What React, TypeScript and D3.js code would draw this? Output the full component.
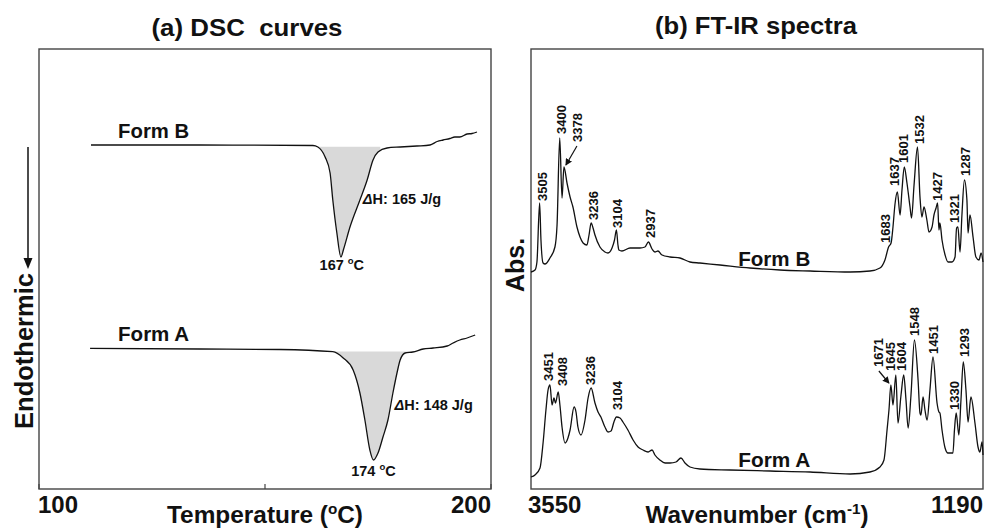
import React from "react";
import * as d3 from "d3";

const FONT = "'Liberation Sans', Arial, Helvetica, sans-serif";

// ---- DSC (a): temperature in °C, heat flow in arbitrary units ----
const dscBTemp = [111.5, 135.6, 160.6, 161.7, 163.3, 164.4, 165.0, 165.9, 166.8, 167.4, 168.8, 171.0, 172.6, 173.9, 175.0, 177.0, 179.9, 183.6, 186.5, 188.1, 189.4, 190.9, 192.0, 193.1, 194.7, 195.8, 196.9];
const dscBFlow = [34.4, 34.4, 34.35, 34.2, 33.2, 31.6, 28.9, 25.6, 23.2, 24.0, 26.2, 28.9, 30.9, 32.9, 33.7, 34.1, 34.2, 34.3, 34.4, 34.75, 34.9, 35.05, 35.2, 35.2, 35.5, 35.55, 35.7];
const dscATemp = [111.3, 135.6, 153.3, 165.0, 167.3, 169.5, 171.0, 172.1, 173.2, 174.0, 175.0, 176.1, 177.2, 178.3, 179.2, 179.9, 181.0, 182.7, 185.0, 187.2, 190.3, 191.6, 193.1, 194.7, 196.5];
const dscAFlow = [14.07, 14.0, 13.95, 13.73, 13.1, 11.9, 9.6, 6.9, 3.9, 2.9, 3.6, 5.2, 6.9, 9.6, 11.6, 12.9, 13.6, 13.7, 14.0, 14.1, 14.3, 14.6, 14.9, 15.1, 15.4];
const dscPeakTemp = [167, 174];
const dscEnthalpy = [165, 148];
const dscFillRange = [[161.5, 175.5], [164.5, 182.5]];

// ---- FT-IR (b): wavenumber in cm-1, absorbance in arbitrary units ----
const irBWave = [3550, 3529, 3519, 3505, 3498, 3487, 3477, 3451, 3425, 3414, 3400, 3388, 3378, 3362, 3346, 3331, 3310, 3294, 3278, 3258, 3247, 3236, 3226, 3216, 3190, 3164, 3148, 3127, 3114, 3104, 3096, 3091, 3075, 3033, 2981, 2955, 2937, 2918, 2903, 2887, 2866, 2824, 2772, 2720, 2668, 2563, 2407, 2250, 2093, 1884, 1780, 1728, 1702, 1683, 1670, 1660, 1650, 1637, 1623, 1613, 1601, 1587, 1571, 1563, 1550, 1532, 1519, 1509, 1498, 1483, 1472, 1456, 1446, 1435, 1427, 1420, 1415, 1404, 1388, 1373, 1352, 1336, 1328, 1321, 1310, 1300, 1287, 1274, 1268, 1258, 1242, 1227, 1211, 1200, 1190];
const irBAbs = [21.7, 21.9, 22.7, 28.6, 24.9, 22.6, 22.5, 23.1, 24.2, 26.4, 35.1, 29.1, 32.2, 30.6, 29.2, 28.2, 26.2, 25.2, 24.6, 24.4, 25.4, 26.6, 26.1, 25.4, 24.2, 23.7, 23.6, 24.1, 24.9, 25.9, 24.4, 23.9, 23.8, 24.1, 24.1, 24.2, 24.7, 24.0, 23.7, 23.8, 23.4, 23.2, 23.1, 22.7, 22.6, 22.4, 22.1, 21.9, 21.8, 21.7, 21.8, 22.1, 22.9, 24.2, 24.6, 26.2, 28.4, 29.7, 27.4, 29.9, 32.2, 30.6, 28.2, 27.1, 30.4, 34.2, 29.2, 27.2, 28.2, 26.9, 25.7, 26.2, 27.4, 28.1, 28.6, 25.9, 26.6, 24.9, 23.4, 22.7, 22.7, 23.2, 26.1, 26.2, 23.7, 27.4, 30.9, 28.9, 25.6, 27.4, 25.2, 23.2, 22.9, 23.6, 22.7];
const irAWave = [3550, 3529, 3503, 3487, 3472, 3461, 3451, 3440, 3430, 3422, 3408, 3399, 3388, 3372, 3357, 3346, 3325, 3315, 3305, 3289, 3268, 3252, 3236, 3216, 3200, 3185, 3164, 3148, 3132, 3117, 3104, 3085, 3070, 3044, 3017, 2991, 2965, 2939, 2929, 2918, 2903, 2877, 2850, 2824, 2793, 2767, 2746, 2720, 2668, 2511, 2302, 2093, 1884, 1780, 1728, 1707, 1691, 1681, 1671, 1660, 1645, 1634, 1618, 1604, 1592, 1581, 1566, 1548, 1529, 1519, 1514, 1503, 1493, 1482, 1467, 1451, 1430, 1420, 1415, 1404, 1388, 1373, 1347, 1339, 1330, 1316, 1305, 1293, 1279, 1268, 1253, 1232, 1216, 1206, 1195, 1190];
const irAAbs = [1.2, 1.4, 2.1, 4.6, 7.9, 9.9, 10.4, 8.4, 9.1, 8.6, 9.7, 8.4, 6.2, 4.6, 5.1, 5.9, 8.2, 7.7, 6.2, 5.4, 6.9, 9.1, 10.1, 8.6, 7.7, 7.2, 6.2, 5.7, 5.8, 6.7, 7.2, 7.1, 6.7, 5.9, 4.9, 4.2, 3.9, 3.7, 3.8, 3.9, 3.4, 2.9, 2.6, 2.6, 2.7, 3.1, 2.6, 2.2, 2.0, 1.9, 1.8, 1.7, 1.5, 1.7, 2.2, 2.9, 5.9, 7.9, 10.4, 8.4, 11.4, 6.6, 9.4, 11.4, 8.9, 6.1, 9.4, 14.9, 10.9, 7.6, 7.4, 9.2, 7.9, 6.9, 9.9, 13.2, 8.6, 7.7, 7.6, 5.9, 4.1, 3.6, 3.6, 5.9, 7.6, 5.4, 8.9, 12.7, 9.9, 6.7, 9.2, 6.6, 4.2, 3.7, 4.7, 3.4];

const irBPeaks = [3505, 3400, 3378, 3236, 3104, 2937, 1683, 1637, 1601, 1532, 1427, 1321, 1287];
const irAPeaks = [3451, 3408, 3236, 3104, 1671, 1645, 1604, 1548, 1451, 1330, 1293];
// small horizontal nudges so neighbouring labels do not collide
const irBNudge = [2.5, 2, 13, 2, 1, 2.5, -3, -3, -1, 1.5, 0, -3, 1.5];
const irANudge = [-2, 4, -1, 1.5, -12, -5, -2.5, 0, 0, -2, 1];
const irBLift = [0, 2, 23, 1, 0, 2, 2, 4, 2, 1, 0, 2, 2];
const irALift = [2, 4, 1, 5, 16, 2, 2, 2, 1, 1, 3];
const arrowPeaks = ["B3378", "A1671"];

const xTempTicks = [100, 150, 200];

function interp(xs: number[], ys: number[], t: number) {
  for (let i = 0; i < xs.length - 1; i++) {
    const a = xs[i], b = xs[i + 1];
    if ((t - a) * (t - b) <= 0) {
      const f = b === a ? 0 : (t - a) / (b - a);
      return ys[i] + f * (ys[i + 1] - ys[i]);
    }
  }
  return ys[ys.length - 1];
}

export default function App() {
  const W = 1000, H = 529;
  const top = 49, bottom = 489;
  const y = d3.scaleLinear().domain([0, 44]).range([bottom, top]);
  const xT = d3.scaleLinear().domain([100, 200]).range([39, 491]);
  const xW = d3.scaleLinear().domain([3550, 1190]).range([531, 983]);

  const dscLine = d3.line<[number, number]>().x((d) => xT(d[0])).y((d) => y(d[1])).curve(d3.curveMonotoneX);
  const irLine = d3.line<[number, number]>().x((d) => xW(d[0])).y((d) => y(d[1])).curve(d3.curveMonotoneX);

  const dscSeries = [
    { name: "Form B", t: dscBTemp, v: dscBFlow },
    { name: "Form A", t: dscATemp, v: dscAFlow },
  ];
  const irSeries = [
    { key: "B", name: "Form B", w: irBWave, v: irBAbs, peaks: irBPeaks, nudge: irBNudge, lift: irBLift, labelY: 4 },
    { key: "A", name: "Form A", w: irAWave, v: irAAbs, peaks: irAPeaks, nudge: irANudge, lift: irALift, labelY: 4 },
  ];

  const txt = { fontFamily: FONT, fontWeight: 700 as const, fill: "#111" };

  return (
    <svg width={W} height={H} style={{ position: "absolute", left: 0, top: 0, background: "#fff" }}>
      <defs>
        <marker id="ah" markerWidth="7" markerHeight="7" refX="6" refY="3.5" orient="auto" markerUnits="userSpaceOnUse">
          <path d="M0,0 L7,3.5 L0,7 z" fill="#111" />
        </marker>
      </defs>

      {/* ---------- panel (a) ---------- */}
      <text x={247} y={36} textAnchor="middle" fontSize={24} style={{ ...txt, whiteSpace: "pre" }} textLength={191} lengthAdjust="spacingAndGlyphs">
        {"(a) DSC  curves"}
      </text>
      <rect x={xT(100)} y={top} width={xT(200) - xT(100)} height={bottom - top} fill="none" stroke="#444" strokeWidth={1.4} />
      {xTempTicks.map((t) => (
        <line key={t} x1={xT(t)} x2={xT(t)} y1={bottom} y2={bottom - 5} stroke="#444" strokeWidth={1.2} />
      ))}
      <text x={xT(100) - 1} y={513} fontSize={24} style={txt}>100</text>
      <text x={xT(200)} y={513} fontSize={24} textAnchor="end" style={txt}>200</text>
      <text x={(xT(100) + xT(200)) / 2} y={523} fontSize={24} textAnchor="middle" style={txt} textLength={196} lengthAdjust="spacingAndGlyphs">
        Temperature (<tspan fontSize={15} dy={-9}>o</tspan><tspan dy={9}>C)</tspan>
      </text>

      {dscSeries.map((s, i) => {
        const pts = s.t.map((t, j) => [t, s.v[j]] as [number, number]);
        const [f0, f1] = dscFillRange[i];
        const base = interp(s.t, s.v, f0);
        const fillPts: [number, number][] = [
          [f0, base],
          ...pts.filter((p) => p[0] > f0 && p[0] < f1),
          [f1, interp(s.t, s.v, f1)],
        ];
        const area = d3.area<[number, number]>()
          .x((d) => xT(d[0]))
          .y0(y(base))
          .y1((d) => y(Math.min(d[1], base)))
          .curve(d3.curveMonotoneX);
        const pk = dscPeakTemp[i];
        const pv = interp(s.t, s.v, pk);
        const px = xT(pk), py = y(pv);
        return (
          <g key={s.name}>
            <path d={area(fillPts) || ""} fill="#d9d9d9" />
            <path d={dscLine(pts) || ""} fill="none" stroke="#111" strokeWidth={1.3} />
            <text x={xT(117.5)} y={y(s.v[0]) - 7} fontSize={19.5} style={txt} textLength={71} lengthAdjust="spacingAndGlyphs">{s.name}</text>
            <text x={px + 21} y={py - 50} fontSize={14.5} style={txt}>
              <tspan fontStyle="italic">Δ</tspan>H: {dscEnthalpy[i]} J/g
            </text>
            <text x={px} y={py + 16} fontSize={14.5} textAnchor="middle" style={txt}>
              {pk} <tspan fontSize={9.5} dy={-6}>o</tspan><tspan dy={6}>C</tspan>
            </text>
          </g>
        );
      })}

      {/* endothermic arrow */}
      <line x1={28} x2={28} y1={147} y2={260} stroke="#111" strokeWidth={1.5} />
      <path d="M23.5,258 L32.5,258 L28,269 Z" fill="#111" />
      <text transform="translate(33,351) rotate(-90)" textAnchor="middle" fontSize={25.5} style={txt}>Endothermic</text>

      {/* ---------- panel (b) ---------- */}
      <text x={756} y={34} textAnchor="middle" fontSize={24} style={txt} textLength={202} lengthAdjust="spacingAndGlyphs">
        (b) FT-IR spectra
      </text>
      <rect x={xW(3550)} y={top} width={xW(1190) - xW(3550)} height={bottom - top} fill="none" stroke="#444" strokeWidth={1.4} />
      <text x={xW(3550) - 3} y={513} fontSize={24} style={txt}>3550</text>
      <text x={xW(1190)} y={513} fontSize={24} textAnchor="end" style={txt}>1190</text>
      <text x={(xW(3550) + xW(1190)) / 2} y={523} fontSize={24} textAnchor="middle" style={txt} textLength={223} lengthAdjust="spacingAndGlyphs">
        Wavenumber (cm<tspan fontSize={15} dy={-9}>-1</tspan><tspan dy={9}>)</tspan>
      </text>
      <text transform="translate(524,265) rotate(-90)" textAnchor="middle" fontSize={25} style={txt}>Abs.</text>

      {irSeries.map((s) => {
        const pts = s.w.map((w, j) => [w, s.v[j]] as [number, number]);
        return (
          <g key={s.key}>
            <path d={irLine(pts) || ""} fill="none" stroke="#111" strokeWidth={1.3} />
            <text x={xW(2280)} y={y(interp(s.w, s.v, 2280)) - s.labelY} fontSize={19.5} textAnchor="middle" style={txt} textLength={72} lengthAdjust="spacingAndGlyphs">{s.name}</text>
            {s.peaks.map((p, k) => {
              const idx = s.w.indexOf(p);
              const v = idx >= 0 ? s.v[idx] : interp(s.w, s.v, p);
              const px = xW(p), py = y(v);
              const lx = px + s.nudge[k];
              const ly = py - 2 - s.lift[k];
              const hasArrow = arrowPeaks.includes(s.key + p);
              return (
                <g key={p}>
                  <text transform={`translate(${lx},${ly}) rotate(-90)`} dy="0.35em" fontSize={13} style={txt}>{p}</text>
                  {hasArrow && (
                    <line x1={lx} y1={ly + 4} x2={px + (lx > px ? 2 : -2)} y2={py - 2} stroke="#111" strokeWidth={1.2} markerEnd="url(#ah)" />
                  )}
                </g>
              );
            })}
          </g>
        );
      })}
    </svg>
  );
}
